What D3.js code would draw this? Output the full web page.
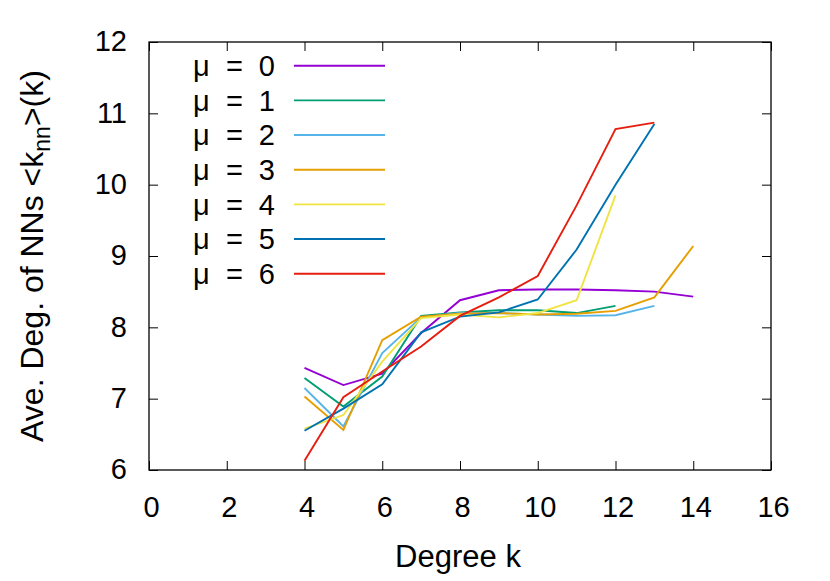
<!DOCTYPE html>
<html>
<head>
<meta charset="utf-8">
<script src="https://cdn.jsdelivr.net/npm/d3@7"></script>
<style>
  body { margin: 0; background: #fff; }
  text { font-family: "Liberation Sans", Arial, sans-serif; fill: #000; }
</style>
</head>
<body>
<div id="chart"></div>
<script>
const degrees = [4, 5, 6, 7, 8, 9, 10, 11, 12, 13, 14];
const mu0 = [7.43, 7.19, 7.35, 7.92, 8.38, 8.52, 8.53, 8.53, 8.52, 8.50, 8.43];
const mu1 = [7.29, 6.89, 7.31, 8.16, 8.21, 8.24, 8.24, 8.20, 8.30];
const mu2 = [7.15, 6.61, 7.64, 8.14, 8.20, 8.20, 8.18, 8.16, 8.17, 8.30];
const mu3 = [7.03, 6.56, 7.82, 8.15, 8.19, 8.20, 8.18, 8.19, 8.23, 8.42, 9.14];
const mu4 = [6.58, 6.77, 7.52, 8.13, 8.18, 8.14, 8.20, 8.38, 9.85];
const mu5 = [6.55, 6.86, 7.20, 7.93, 8.15, 8.21, 8.39, 9.09, 10.00, 10.85];
const mu6 = [6.13, 7.02, 7.38, 7.73, 8.16, 8.42, 8.72, 9.71, 10.78, 10.87];
const seriesNames = ['μ = 0', 'μ = 1', 'μ = 2', 'μ = 3', 'μ = 4', 'μ = 5', 'μ = 6'];
const seriesColors = ['#9400d3', '#009e73', '#56b4e9', '#e69f00', '#f0e442', '#0072b2', '#e51e10'];
const xTicks = [0, 2, 4, 6, 8, 10, 12, 14, 16];
const yTicks = [6, 7, 8, 9, 10, 11, 12];

const allSeries = [mu0, mu1, mu2, mu3, mu4, mu5, mu6];

const width = 830, height = 581;
const margin = { left: 149, right: 59, top: 42, bottom: 111 };

const svg = d3.select('#chart').append('svg')
  .attr('width', width)
  .attr('height', height);

const x = d3.scaleLinear().domain([0, 16]).range([margin.left, width - margin.right]);
const y = d3.scaleLinear().domain([6, 12]).range([height - margin.bottom, margin.top]);

const tickLen = 9;

// bottom & top ticks
svg.append('g')
  .attr('transform', 'translate(0,' + y(6) + ')')
  .call(d3.axisBottom(x).tickValues(xTicks).tickSize(-tickLen).tickFormat(d3.format('d')))
  .call(g => g.select('.domain').remove())
  .call(g => g.selectAll('line').attr('stroke', '#000'))
  .call(g => g.selectAll('text').style('font-size', '29px').attr('dy', null).attr('y', 47).attr('dx', 2));

svg.append('g')
  .attr('transform', 'translate(0,' + y(12) + ')')
  .call(d3.axisTop(x).tickValues(xTicks).tickSize(-tickLen).tickFormat(''))
  .call(g => g.select('.domain').remove())
  .call(g => g.selectAll('line').attr('stroke', '#000'));

svg.append('g')
  .attr('transform', 'translate(' + x(0) + ',0)')
  .call(d3.axisLeft(y).tickValues(yTicks).tickSize(-tickLen).tickFormat(d3.format('d')))
  .call(g => g.select('.domain').remove())
  .call(g => g.selectAll('line').attr('stroke', '#000'))
  .call(g => g.selectAll('text').style('font-size', '29px').attr('x', -22).attr('dy', '0.3em'));

svg.append('g')
  .attr('transform', 'translate(' + x(16) + ',0)')
  .call(d3.axisRight(y).tickValues(yTicks).tickSize(-tickLen).tickFormat(''))
  .call(g => g.select('.domain').remove())
  .call(g => g.selectAll('line').attr('stroke', '#000'));

// frame
svg.append('rect')
  .attr('x', x(0))
  .attr('y', y(12))
  .attr('width', x(16) - x(0))
  .attr('height', y(6) - y(12))
  .attr('fill', 'none')
  .attr('stroke', '#000')
  .attr('stroke-width', 1.3);

// lines
const line = d3.line()
  .x((d, i) => x(degrees[i]))
  .y(d => y(d));

allSeries.forEach((s, i) => {
  svg.append('path')
    .datum(s)
    .attr('d', line)
    .attr('fill', 'none')
    .attr('stroke', seriesColors[i])
    .attr('stroke-width', 1.9)
    .attr('stroke-linejoin', 'miter');
});

// legend
const legend = svg.append('g');
seriesNames.forEach((name, i) => {
  const ly = 65.7 + i * 34.67;
  legend.append('text')
    .attr('x', 275)
    .attr('y', ly)
    .attr('dy', '0.36em')
    .attr('text-anchor', 'end')
    .style('font-size', '29px')
    .style('word-spacing', '8px')
    .text(name);
  legend.append('line')
    .attr('x1', 294)
    .attr('x2', 385)
    .attr('y1', ly)
    .attr('y2', ly)
    .attr('stroke', seriesColors[i])
    .attr('stroke-width', 1.9);
});

// axis titles
svg.append('text')
  .attr('x', 458)
  .attr('y', 567)
  .attr('text-anchor', 'middle')
  .style('font-size', '31px')
  .text('Degree k');

const yTitle = svg.append('text')
  .attr('transform', 'translate(43,' + ((y(6) + y(12)) / 2) + ') rotate(-90)')
  .attr('text-anchor', 'middle')
  .style('font-size', '32px');
yTitle.append('tspan').text('Ave. Deg. of NNs <k');
yTitle.append('tspan').attr('dy', 7).style('font-size', '23px').text('nn');
yTitle.append('tspan').attr('dy', -7).text('>(k)');
</script>
</body>
</html>
